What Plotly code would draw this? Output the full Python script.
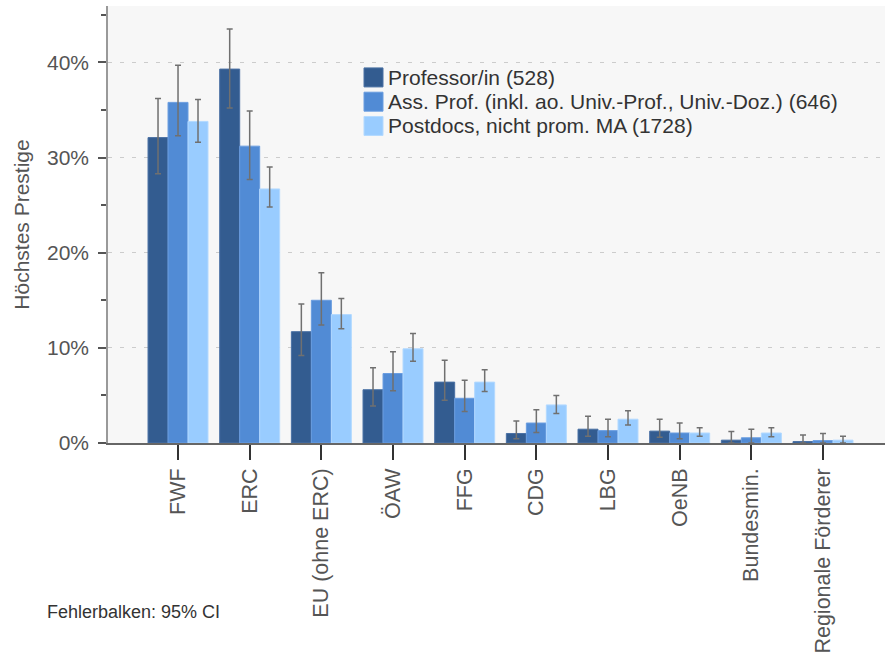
import plotly.graph_objects as go

categories = ["FWF", "ERC", "EU (ohne ERC)", "ÖAW", "FFG", "CDG", "LBG", "OeNB",
              "Bundesmin.", "Regionale Förderer"]

series_names = ["Professor/in (528)",
                "Ass. Prof. (inkl. ao. Univ.-Prof., Univ.-Doz.) (646)",
                "Postdocs, nicht prom. MA (1728)"]

prof_values = [32.1, 39.3, 11.7, 5.6, 6.4, 1.0, 1.45, 1.25, 0.3, 0.15]
prof_upper = [36.2, 43.5, 14.6, 7.9, 8.7, 2.3, 2.8, 2.5, 1.2, 0.85]
prof_lower = [28.3, 35.2, 9.2, 3.9, 4.5, 0.45, 0.7, 0.6, 0.0, 0.0]

ass_values = [35.8, 31.2, 15.0, 7.3, 4.7, 2.1, 1.3, 1.05, 0.55, 0.25]
ass_upper = [39.7, 34.9, 17.9, 9.6, 6.6, 3.5, 2.5, 2.1, 1.45, 1.0]
ass_lower = [32.3, 27.7, 12.4, 5.5, 3.3, 1.1, 0.65, 0.45, 0.0, 0.0]

post_values = [33.8, 26.7, 13.5, 9.9, 6.4, 4.0, 2.5, 1.05, 1.05, 0.3]
post_upper = [36.1, 29.0, 15.2, 11.5, 7.7, 5.0, 3.4, 1.6, 1.6, 0.7]
post_lower = [31.6, 24.8, 12.0, 8.6, 5.4, 3.1, 1.9, 0.7, 0.65, 0.0]

colors = ["#335c90", "#518bd5", "#99ccff"]
line_colors = ["#4a71a4", "#6a9de0", "#b3d9ff"]

y_tick_values = [0, 10, 20, 30, 40]
y_tick_labels = ["0%", "10%", "20%", "30%", "40%"]
y_title = "Höchstes Prestige"
footnote = "Fehlerbalken: 95% CI"

FONT = "Liberation Sans, Arial, sans-serif"

# layout geometry (pixels)
W, H = 885, 662
L, R, T, B = 108, 0, 6, 218.5
PW, PH = W - L - R, H - T - B


def px_x(x):
    return (x - L) / PW


def px_y(y):
    return (H - B - y) / PH


fig = go.Figure()
x_idx = list(range(len(categories)))
all_series = [(prof_values, prof_upper, prof_lower),
              (ass_values, ass_upper, ass_lower),
              (post_values, post_upper, post_lower)]

for i, (vals, up, lo) in enumerate(all_series):
    fig.add_trace(go.Bar(
        x=x_idx, y=vals, name=series_names[i], showlegend=False,
        marker=dict(color=colors[i], line=dict(color=line_colors[i], width=1)),
        error_y=dict(type="data", symmetric=False,
                     array=[u - v for u, v in zip(up, vals)],
                     arrayminus=[v - l for v, l in zip(vals, lo)],
                     color="#707070", thickness=1.5, width=3),
    ))

# manual legend
shapes = []
annotations = []
leg_x0, leg_y0, sq, step = 364, 68, 19, 24.3
for i, name in enumerate(series_names):
    y0 = leg_y0 + i * step
    shapes.append(dict(type="rect", xref="paper", yref="paper",
                       x0=px_x(leg_x0), x1=px_x(leg_x0 + sq),
                       y0=px_y(y0 + sq), y1=px_y(y0),
                       fillcolor=colors[i], line=dict(color=line_colors[i], width=1)))
    annotations.append(dict(text=name, xref="paper", yref="paper",
                            x=px_x(leg_x0 + sq + 3), y=px_y(y0 + sq / 2),
                            xanchor="left", yanchor="middle", showarrow=False,
                            font=dict(size=21, color="#333", family=FONT)))

annotations.append(dict(
    text=footnote, xref="paper", yref="paper",
    x=px_x(45), y=px_y(613),
    xanchor="left", yanchor="middle", showarrow=False,
    font=dict(size=18, color="#333", family=FONT),
))

fig.update_layout(
    width=W, height=H,
    margin=dict(l=L, r=R, t=T, b=B, pad=0),
    paper_bgcolor="white",
    plot_bgcolor="#f7f7f7",
    barmode="group",
    bargap=0.163,
    bargroupgap=0,
    showlegend=False,
    font=dict(family=FONT, size=20, color="#555"),
    xaxis=dict(
        range=[-0.977, 9.865], automargin=False,
        tickmode="array", tickvals=x_idx, ticktext=categories,
        tickangle=-90, ticks="outside", ticklen=15, tickwidth=2,
        tickcolor="#333", showline=True, linecolor="#666", linewidth=1.5,
        showgrid=False, zeroline=False,
        tickfont=dict(size=21.5, color="#555"),
    ),
    yaxis=dict(
        range=[0, 45.93], automargin=False,
        tickmode="array", tickvals=y_tick_values, ticktext=y_tick_labels,
        ticks="outside", ticklen=8, tickwidth=2, tickcolor="#555",
        showline=True, linecolor="#999", linewidth=1.5,
        showgrid=True, gridcolor="#cccccc", griddash="4px,8px", gridwidth=1,
        zeroline=False,
        tickfont=dict(size=21, color="#555"),
        ticklabelstandoff=5,
        minor=dict(dtick=5, tick0=0, ticks="outside", ticklen=5, tickwidth=2,
                   tickcolor="#555", showgrid=False),
        title=dict(text=y_title, font=dict(size=21, color="#555"), standoff=12),
    ),
    shapes=shapes,
    annotations=annotations,
)

fig.write_html("out.html",
               config={"displayModeBar": False},
               post_script="document.body.style.margin='0px';document.body.style.padding='0px';")
